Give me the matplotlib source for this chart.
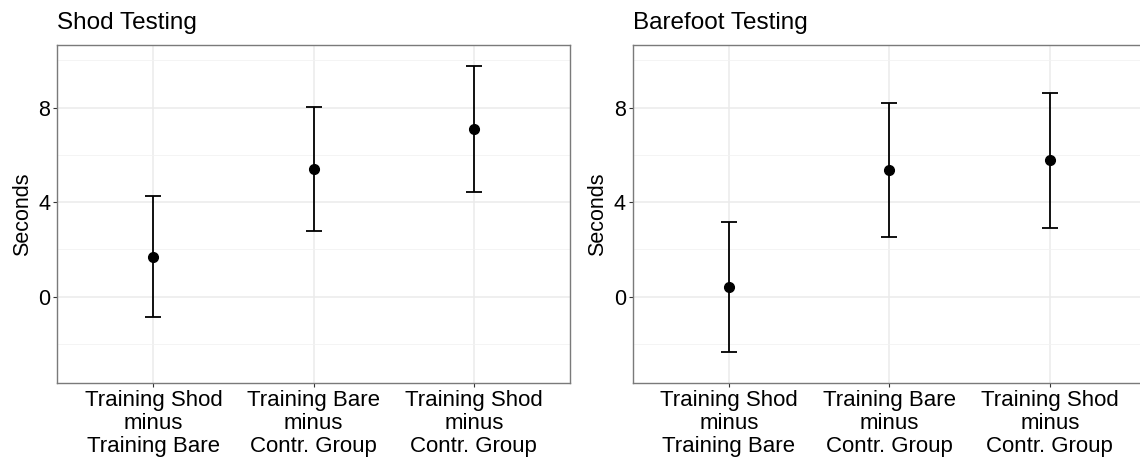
import matplotlib
matplotlib.use("Agg")
import matplotlib.pyplot as plt
import numpy as np

plt.rcParams['font.family'] = ['Liberation Sans', 'DejaVu Sans']

categories = ["Training Shod\nminus\nTraining Bare",
              "Training Bare\nminus\nContr. Group",
              "Training Shod\nminus\nContr. Group"]
panel_titles = ["Shod Testing", "Barefoot Testing"]

shod_mean = [1.68, 5.40, 7.09]
shod_lower = [-0.87, 2.77, 4.42]
shod_upper = [4.25, 8.04, 9.76]

bare_mean = [0.40, 5.36, 5.77]
bare_lower = [-2.33, 2.54, 2.91]
bare_upper = [3.15, 8.18, 8.63]

y_ticks = [0, 4, 8]
y_minor = [-2, 2, 6, 10]

W, H = 1140, 461
fig = plt.figure(figsize=(W / 100, H / 100), dpi=100)

panels = [
    (57.3, 570.0, shod_mean, shod_lower, shod_upper, panel_titles[0]),
    (632.7, 1146.0, bare_mean, bare_lower, bare_upper, panel_titles[1]),
]
top_px, bot_px = 45.5, 382.7

for (x0, x1, mean, lo, hi, title) in panels:
    ax = fig.add_axes([x0 / W, 1 - bot_px / H, (x1 - x0) / W, (bot_px - top_px) / H])
    x = np.arange(1, len(categories) + 1)
    mean = np.array(mean); lo = np.array(lo); hi = np.array(hi)
    ax.errorbar(x, mean, yerr=[mean - lo, hi - mean], fmt='o', color='black',
                ecolor='black', elinewidth=1.3, capsize=5.6, capthick=1.3,
                markersize=7, zorder=3)
    ax.set_xlim(0.4, 3.6)
    ax.set_ylim(-3.64, 10.63)
    ax.set_xticks(x)
    ax.set_xticklabels(categories, fontsize=16, linespacing=1.15)
    ax.set_yticks(y_ticks)
    ax.set_yticklabels([str(v) for v in y_ticks], fontsize=15.5)
    ax.set_yticks(y_minor, minor=True)
    ax.grid(True, which='major', color='#EBEBEB', linewidth=1.1, zorder=0)
    ax.grid(True, which='minor', axis='y', color='#F2F2F2', linewidth=0.6, zorder=0)
    ax.set_axisbelow(True)
    ax.tick_params(axis='both', which='major', length=3, width=0.8, color='#333333',
                   pad=2.0, labelcolor='black')
    ax.tick_params(axis='y', which='minor', length=0)
    for s in ax.spines.values():
        s.set_color('#7a7a7a')
        s.set_linewidth(1.0)
    ax.set_ylabel("Seconds", fontsize=15.5, labelpad=4)
    fig.text(x0 / W, 1 - 29 / H, title, fontsize=17.5, ha='left', va='baseline')

fig.savefig("out.png", dpi=100)
